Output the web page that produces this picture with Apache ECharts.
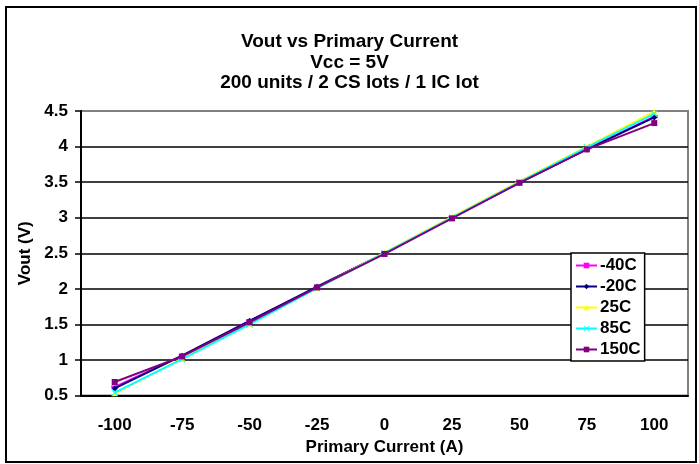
<!DOCTYPE html>
<html>
<head>
    <meta charset="utf-8">
    <script src="https://cdn.jsdelivr.net/npm/echarts@6.0.0/dist/echarts.min.js"></script>
    <style>
        body { margin: 0; background: #fff; }
    </style>
</head>
<body>
    <div id="main" style="width: 699px;height:464px;"></div>
    <script type="text/javascript">
        var myChart = echarts.init(document.getElementById('main'));

        // 数据
        var currents = ['-100', '-75', '-50', '-25', '0', '25', '50', '75', '100'];
        var tempNames = ['-40C', '-20C', '25C', '85C', '150C'];
        var vM40 = [0.62, 1.06, 1.55, 2.02, 2.50, 3.00, 3.50, 3.97, 4.42];
        var vM20 = [0.60, 1.06, 1.55, 2.03, 2.50, 3.00, 3.49, 3.96, 4.41];
        var v25 = [0.53, 1.02, 1.51, 2.01, 2.51, 3.01, 3.51, 4.00, 4.49];
        var v85 = [0.54, 1.01, 1.50, 2.01, 2.50, 3.00, 3.50, 3.99, 4.46];
        var v150 = [0.69, 1.05, 1.53, 2.02, 2.49, 2.99, 3.49, 3.96, 4.33];

        var allValues = [vM40, vM20, v25, v85, v150];
        var lineColors = ['#FF00FF', '#000080', '#FFFF00', '#00FFFF', '#800080'];
        var markers = [
            'rect',
            'diamond',
            'triangle',
            'path://M0,1L1,0L5,4L9,0L10,1L6,5L10,9L9,10L5,6L1,10L0,9L4,5Z',
            'rect'
        ];
        var markerSizes = [[7, 3], 6, 6, 7, 6];

        var fontName = 'Arial, "Liberation Sans", sans-serif';

        var seriesList = tempNames.map(function (name, i) {
            return {
                name: name,
                type: 'line',
                data: allValues[i],
                symbol: markers[i],
                symbolSize: markerSizes[i],
                showAllSymbol: true,
                lineStyle: { color: lineColors[i], width: 2 },
                itemStyle: { color: lineColors[i] },
                emphasis: { disabled: true },
                z: 2 + i
            };
        });

        // 网格线颜色：最上面一条为灰色边框
        var gridColors = ['#000', '#000', '#000', '#000', '#000', '#000', '#000', '#000', '#808080'];

        var option = {
            animation: false,
            backgroundColor: '#fff',
            textStyle: { fontFamily: fontName },
            title: {
                text: 'Vout vs Primary Current\nVcc = 5V\n200 units / 2 CS lots / 1 IC lot',
                left: 'center',
                top: 27,
                textStyle: {
                    fontFamily: fontName,
                    fontSize: 19,
                    fontWeight: 'bold',
                    color: '#000',
                    lineHeight: 20.5
                }
            },
            graphic: [
                { // 外框
                    type: 'rect',
                    shape: { x: 6, y: 7, width: 690, height: 455 },
                    style: { fill: 'none', stroke: '#000', lineWidth: 2 },
                    z: 100
                }
            ],
            legend: {
                orient: 'vertical',
                left: 571,
                top: 253,
                padding: [4, 4, 3, 4],
                itemGap: 4,
                itemWidth: 21,
                itemHeight: 7,
                borderColor: '#000',
                borderWidth: 1.5,
                backgroundColor: '#fff',
                data: tempNames,
                textStyle: {
                    fontFamily: fontName,
                    fontSize: 17,
                    fontWeight: 'bold',
                    color: '#000',
                    padding: [0, 0, 0, -2]
                }
            },
            grid: {
                left: 81,
                right: 11,
                top: 111,
                bottom: 68.5,
                show: true,
                borderColor: '#808080',
                borderWidth: 2
            },
            xAxis: {
                type: 'category',
                data: currents,
                boundaryGap: true,
                name: 'Primary Current (A)',
                nameLocation: 'middle',
                nameGap: 43,
                nameTextStyle: { fontSize: 17, fontWeight: 'bold', color: '#000' },
                axisLine: { lineStyle: { color: '#000', width: 2 } },
                axisTick: { length: 6, lineStyle: { color: '#000', width: 2 } },
                axisLabel: { margin: 21, fontSize: 17, fontWeight: 'bold', color: '#000' }
            },
            yAxis: {
                type: 'value',
                min: 0.5,
                max: 4.5,
                interval: 0.5,
                name: 'Vout (V)',
                nameLocation: 'middle',
                nameGap: 46,
                nameTextStyle: { fontSize: 17, fontWeight: 'bold', color: '#000' },
                axisLine: { show: true, lineStyle: { color: '#000', width: 2 } },
                axisTick: { show: true, length: 6, lineStyle: { color: '#000', width: 1.5 } },
                axisLabel: { margin: 13, fontSize: 17, fontWeight: 'bold', color: '#000' },
                splitLine: { lineStyle: { color: gridColors, width: 1.5 } }
            },
            series: seriesList
        };

        myChart.setOption(option);
    </script>
</body>
</html>
